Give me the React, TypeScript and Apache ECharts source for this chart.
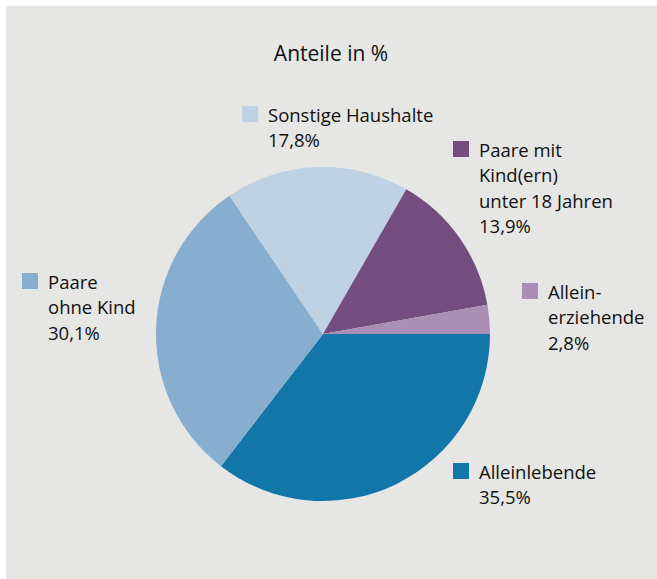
import React, { useEffect, useRef } from "react";
import * as echarts from "echarts";

const titleText = "Anteile in %";
const categories = ["Alleinlebende", "Paare ohne Kind", "Sonstige Haushalte", "Paare mit Kind(ern) unter 18 Jahren", "Alleinerziehende"];
const labelLines = [
  ["Alleinlebende"],
  ["Paare", "ohne Kind"],
  ["Sonstige Haushalte"],
  ["Paare mit", "Kind(ern)", "unter 18 Jahren"],
  ["Allein-", "erziehende"],
];
const values = [35.5, 30.1, 17.8, 13.9, 2.8];
const colors = ["#1277a8", "#87aecf", "#bed2e4", "#744d80", "#a98fb6"];
// label anchor: [square left x, first-line center y]
const labelPos = [
  [453, 471],
  [22, 281],
  [242, 114],
  [453, 149],
  [522, 291],
];

const FONT = '"Open Sans", "Noto Sans", sans-serif';

export default function App() {
  const ref = useRef<HTMLDivElement>(null);
  useEffect(() => {
    document.body.style.margin = "0";
    const chart = echarts.init(ref.current!, null, { renderer: "svg" });
    const graphics: any[] = [
      {
        type: "rect",
        shape: { x: 6, y: 6, width: 651, height: 573 },
        style: { fill: "#e6e6e4" },
        z: -10,
      },
      {
        type: "text",
        x: 331,
        y: 53,
        style: {
          text: titleText,
          font: `21px ${FONT}`,
          fill: "#111111",
          align: "center",
          verticalAlign: "middle",
        },
      },
    ];
    categories.forEach((c, i) => {
      const [sx, cy] = labelPos[i];
      const pct = values[i].toFixed(1).replace(".", ",") + "%";
      const lines = [...labelLines[i], pct];
      graphics.push({
        type: "rect",
        shape: { x: sx, y: cy - 8, width: 16, height: 16 },
        style: { fill: colors[i] },
      });
      graphics.push({
        type: "text",
        x: sx + 26,
        y: cy - 12.75,
        style: {
          text: lines.join("\n"),
          font: `18.5px ${FONT}`,
          lineHeight: 25.5,
          fill: "#111111",
          align: "left",
          verticalAlign: "top",
        },
      });
    });
    chart.setOption({
      animation: false,
      backgroundColor: "#ffffff",
      graphic: graphics,
      series: [
        {
          type: "pie",
          center: [323, 334],
          radius: 167,
          startAngle: 0,
          clockwise: true,
          label: { show: false },
          labelLine: { show: false },
          emphasis: { disabled: true },
          itemStyle: { borderWidth: 0 },
          data: categories.map((c, i) => ({
            name: c,
            value: values[i],
            itemStyle: { color: colors[i] },
          })),
        },
      ],
    });
    return () => chart.dispose();
  }, []);
  return (
    <div
      ref={ref}
      style={{ position: "absolute", left: 0, top: 0, width: 657, height: 579 }}
    />
  );
}
